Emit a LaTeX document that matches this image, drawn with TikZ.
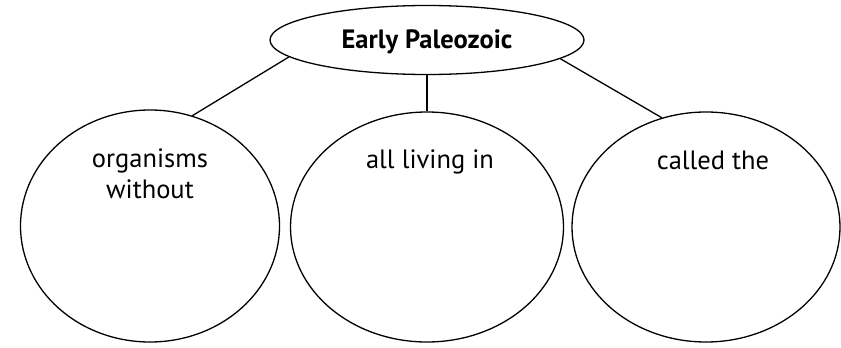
\documentclass[tikz,border=0pt]{standalone}
\usepackage{fontspec}
\setmainfont{PT Sans}
\usetikzlibrary{shapes.geometric}
\begin{document}
\begin{tikzpicture}[x=1pt,y=-1pt,
  bubble/.style={draw, ellipse, line width=1.3pt, inner sep=0pt},
  lbl/.style={font=\fontsize{26.5}{31}\selectfont, align=center, inner sep=0pt, anchor=base},
  link/.style={line width=1.3pt}]
\useasboundingbox (0,0) rectangle (841,348);
\node[bubble, minimum width=314pt, minimum height=69pt] (top) at (427,40) {};
\node[lbl, font=\fontsize{26.5}{31}\selectfont\bfseries] (toptext) at (427,48) {Early Paleozoic};
\node[bubble, minimum width=259pt, minimum height=232pt] (left) at (150,226) {};
\node[bubble, minimum width=273pt, minimum height=230pt] (mid) at (427,227) {};
\node[bubble, minimum width=268pt, minimum height=230pt] (right) at (706,227) {};
\node[lbl] (ltext) at (150,198) {organisms\\without};
\node[lbl] (mtext) at (430,168) {all living in};
\node[lbl] (rtext) at (713,169) {called the};
\draw[link] (top.187) -- (left.69);
\draw[link] (top.south) -- (mid.north);
\draw[link] (top.352.5) -- (right.112);
\end{tikzpicture}
\end{document}
